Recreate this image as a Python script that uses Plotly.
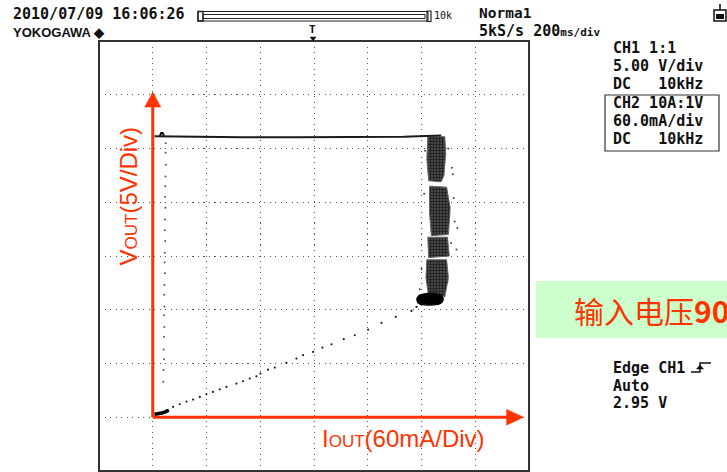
import plotly.graph_objects as go

# ---------------- data (current in mA, voltage in V) ----------------
# top plateau of the V-I trace
TOP_I = [2, 40, 100, 160, 220, 280, 322]
TOP_V = [26.15, 26.1, 26.05, 26.05, 26.05, 26.1, 26.2]

# small notch at the start of the plateau
NOTCH_I = [8, 9.5, 11, 12.5]
NOTCH_V = [26.2, 26.45, 26.45, 26.2]

# sparse fast-transition dots near zero current
DROP_I = [14.5, 14.3, 14.6, 14.2, 14.0, 13.8, 14.1, 13.7, 13.5, 13.9, 13.4, 13.2,
          13.6, 13.0, 12.8, 13.1, 12.6, 12.9, 12.4, 12.2, 12.5, 12.0, 11.8]
DROP_V = [25.5, 24.6, 23.5, 22.4, 21.5, 20.5, 19.5, 18.4, 17.4, 16.4, 15.3, 14.4,
          13.4, 12.3, 11.4, 10.3, 9.5, 8.4, 7.5, 6.3, 5.4, 4.4, 3.3]

# rising ramp (sparse dots)
RAMP_I = [15.3, 22.7, 30.1, 37.6, 45.0, 52.5, 59.9, 67.3, 74.8, 82.2, 93.4, 100.8,
          108.3, 115.7, 120.2, 128.7, 136.2, 149.2, 160.4, 167.8, 179.0, 189.4,
          199.5, 213.2, 225.5, 240.4, 255.3, 271.3, 288.8, 294.4]
RAMP_V = [0.65, 0.96, 1.21, 1.46, 1.64, 1.89, 2.14, 2.36, 2.60, 2.82, 3.13, 3.35,
          3.60, 3.81, 4.06, 4.43, 4.62, 5.05, 5.46, 5.77, 6.08, 6.48, 6.79, 7.26,
          7.63, 8.16, 8.77, 9.33, 9.89, 10.26]

# dense blob at the origin
ORIGIN_I = [2, 6, 10, 14, 18]
ORIGIN_V = [0.28, 0.32, 0.4, 0.5, 0.65]

# noisy constant-current column (outline of each dense block)
BLOCK1_I = [307, 326, 327, 325, 322, 308, 306, 307]
BLOCK1_V = [26.1, 26.1, 24.5, 22.5, 21.9, 22.0, 24.0, 26.1]
BLOCK2_I = [309, 328, 332, 330, 311, 309, 309]
BLOCK2_V = [21.5, 21.4, 19.5, 17.0, 16.9, 19.0, 21.5]
BLOCK3_I = [307, 329, 331, 308, 307]
BLOCK3_V = [16.75, 16.75, 15.0, 14.85, 16.75]
BLOCK4_I = [306, 328, 330, 326, 308, 305, 306]
BLOCK4_V = [14.65, 14.65, 13.0, 11.2, 11.2, 13.0, 14.65]
BLOB_I = [297, 305, 315, 322, 324, 320, 308, 298, 295, 297]
BLOB_V = [11.3, 11.5, 11.5, 11.3, 10.9, 10.55, 10.45, 10.55, 10.9, 11.3]

# scattered stray dots around the column
STRAY_I = [330, 334, 336, 331, 337, 333, 339, 329, 335, 340, 303, 300, 304, 298]
STRAY_V = [25.0, 23.2, 20.4, 19.0, 18.2, 16.2, 15.6, 12.6, 22.6, 17.6, 20.8, 13.8, 24.8, 11.9]

# scope settings (axis scales)
I_DIV = 60       # mA/div
V_DIV = 5        # V/div
I_RANGE = [-60, 420]
V_RANGE = [-5, 35]

# red hand-drawn axes (in data units)
AXIS_I_END = 414.0
AXIS_V_END = 30.25
HEAD_I_LEN = 19.0
HEAD_V_LEN = 1.4
HEAD_I_HALF = 8.9
HEAD_V_HALF = 0.73

RED = "#ff3300"
INK = "#111111"

# ---------------- figure ----------------
W, H = 727, 472
L, T, PW, PH = 99, 41, 430, 430


def PX(px):
    return (px - L) / PW


def PY(py):
    return (T + PH - py) / PH


fig = go.Figure()

# red axes (under the trace)
fig.add_trace(go.Scatter(x=[0, 0], y=[0, AXIS_V_END - HEAD_V_LEN + 0.1], mode="lines",
                         line=dict(color=RED, width=3), hoverinfo="skip"))
fig.add_trace(go.Scatter(x=[0, AXIS_I_END - HEAD_I_LEN + 1], y=[0, 0], mode="lines",
                         line=dict(color=RED, width=3), hoverinfo="skip"))
fig.add_trace(go.Scatter(
    x=[-HEAD_I_HALF, HEAD_I_HALF, 0, -HEAD_I_HALF],
    y=[AXIS_V_END - HEAD_V_LEN, AXIS_V_END - HEAD_V_LEN, AXIS_V_END, AXIS_V_END - HEAD_V_LEN],
    mode="lines", fill="toself", fillcolor=RED, line=dict(color=RED, width=0.5), hoverinfo="skip"))
fig.add_trace(go.Scatter(
    x=[AXIS_I_END - HEAD_I_LEN, AXIS_I_END - HEAD_I_LEN, AXIS_I_END, AXIS_I_END - HEAD_I_LEN],
    y=[-HEAD_V_HALF, HEAD_V_HALF, 0, -HEAD_V_HALF],
    mode="lines", fill="toself", fillcolor=RED, line=dict(color=RED, width=0.5), hoverinfo="skip"))

# trace
pat = dict(shape="+", fgcolor="#000000", bgcolor="#4a4a4a", size=3, solidity=0.6)
for bi, bv in [(BLOCK1_I, BLOCK1_V), (BLOCK2_I, BLOCK2_V), (BLOCK3_I, BLOCK3_V), (BLOCK4_I, BLOCK4_V)]:
    fig.add_trace(go.Scatter(x=bi, y=bv, mode="lines", fill="toself", fillpattern=pat,
                             line=dict(color="#666", width=1), hoverinfo="skip"))
fig.add_trace(go.Scatter(x=BLOB_I, y=BLOB_V, mode="lines", fill="toself", fillcolor="#000",
                         line=dict(color="#000", width=1.5, shape="spline"), hoverinfo="skip"))
fig.add_trace(go.Scatter(x=STRAY_I, y=STRAY_V, mode="markers",
                         marker=dict(color="#444", size=2), hoverinfo="skip"))
fig.add_trace(go.Scatter(x=TOP_I, y=TOP_V, mode="lines", line=dict(color="#1a1a1a", width=2),
                         hoverinfo="skip"))
fig.add_trace(go.Scatter(x=NOTCH_I, y=NOTCH_V, mode="lines", line=dict(color="#000", width=2),
                         hoverinfo="skip"))
fig.add_trace(go.Scatter(x=DROP_I, y=DROP_V, mode="markers",
                         marker=dict(color="#555", size=2), hoverinfo="skip"))
fig.add_trace(go.Scatter(x=RAMP_I, y=RAMP_V, mode="markers",
                         marker=dict(color="#222", size=2.2), hoverinfo="skip"))
fig.add_trace(go.Scatter(x=ORIGIN_I, y=ORIGIN_V, mode="lines",
                         line=dict(color="#000", width=3.5), hoverinfo="skip"))

grid = dict(showgrid=True, gridcolor="#555", gridwidth=1.3, griddash="1.3px,4.2px",
            zeroline=False, showline=False, showticklabels=False, ticks="", fixedrange=True)
fig.update_xaxes(range=I_RANGE, tick0=I_RANGE[0], dtick=I_DIV, **grid)
fig.update_yaxes(range=V_RANGE, tick0=V_RANGE[0], dtick=V_DIV, **grid)

shapes = []
# screen frame
shapes.append(dict(type="rect", xref="paper", yref="paper", x0=0, x1=1, y0=0, y1=1,
                   line=dict(color="#333", width=2), layer="above"))
# green banner
shapes.append(dict(type="rect", xref="paper", yref="paper", x0=PX(536), x1=PX(730),
                   y0=PY(338), y1=PY(281), fillcolor="#ccffcc", line=dict(width=0), layer="below"))
# CH2 box
shapes.append(dict(type="rect", xref="paper", yref="paper", x0=PX(605), x1=PX(719),
                   y0=PY(151), y1=PY(95), line=dict(color="#333", width=1.2)))
# record-length bar
shapes.append(dict(type="rect", xref="paper", yref="paper", x0=PX(198), x1=PX(428),
                   y0=PY(21), y1=PY(11.5), line=dict(color="#222", width=1)))
shapes.append(dict(type="rect", xref="paper", yref="paper", x0=PX(203), x1=PX(425),
                   y0=PY(18.5), y1=PY(14.5), line=dict(color="#222", width=1)))
shapes.append(dict(type="rect", xref="paper", yref="paper", x0=PX(198), x1=PX(203),
                   y0=PY(21), y1=PY(11.5), line=dict(color="#222", width=1.5)))
shapes.append(dict(type="rect", xref="paper", yref="paper", x0=PX(427), x1=PX(431),
                   y0=PY(21.5), y1=PY(11), line=dict(color="#222", width=1.2)))
# trigger position marker
shapes.append(dict(type="path", xref="paper", yref="paper",
                   path=f"M{PX(310)},{PY(37)} L{PX(316)},{PY(37)} L{PX(313)},{PY(41)} Z",
                   fillcolor="#111", line=dict(color="#111", width=0.5)))
# top-right icon
shapes.append(dict(type="line", xref="paper", yref="paper", x0=PX(720), x1=PX(720),
                   y0=PY(10), y1=PY(4), line=dict(color="#111", width=1.5)))
shapes.append(dict(type="rect", xref="paper", yref="paper", x0=PX(714), x1=PX(726),
                   y0=PY(21), y1=PY(10), line=dict(color="#111", width=1.5)))
shapes.append(dict(type="rect", xref="paper", yref="paper", x0=PX(716), x1=PX(724),
                   y0=PY(19), y1=PY(14), fillcolor="#111", line=dict(width=0)))
# rising-edge glyph
shapes.append(dict(type="path", xref="paper", yref="paper",
                   path=f"M{PX(691)},{PY(372)} L{PX(700)},{PY(372)} L{PX(700)},{PY(363)} L{PX(711)},{PY(363)}",
                   line=dict(color="#111", width=1.5)))
shapes.append(dict(type="path", xref="paper", yref="paper",
                   path=f"M{PX(696.5)},{PY(369)} L{PX(703.5)},{PY(369)} L{PX(700)},{PY(365)} Z",
                   fillcolor="#111", line=dict(color="#111", width=0.5)))

ann = []


def txt(px, py, s, size=15, family="DejaVu Sans Mono", color=INK, xanchor="left", bold=True, **kw):
    ann.append(dict(xref="paper", yref="paper", x=PX(px), y=PY(py), text=(f"<b>{s}</b>" if bold else s),
                    showarrow=False, xanchor=xanchor, yanchor="middle",
                    font=dict(family=family, size=size, color=color), **kw))


NB = "\u00a0"
txt(11, 14, "2010/07/09 16:06:26")
txt(11, 32, "YOKOGAWA ◆", size=13, family="Liberation Sans")
txt(432, 15.5, "10k", size=10, bold=False)
txt(307, 30, "T", size=11)
txt(477, 13, "Norma1", size=14.5)
txt(477, 31, "5kS/s 200<span style='font-size:11px'>ms/div</span>", size=15)
txt(611, 48, "CH1 1:1")
txt(611, 66, "5.00 V/div")
txt(611, 84, "DC" + NB * 3 + "10kHz")
txt(611, 103, "CH2 10A:1V")
txt(611, 121, "60.0mA/div")
txt(611, 139, "DC" + NB * 3 + "10kHz")
txt(611, 368, "Edge CH1")
txt(611, 386, "Auto")
txt(611, 403, "2.95 V")
txt(572, 310, "输入电压<b>90</b>", size=30, family="Noto Sans CJK SC", color=RED, bold=False)

# red axis labels
ann.append(dict(xref="paper", yref="paper", x=PX(128), y=PY(196.5),
                text="V<span style='font-size:17px'>OUT</span>(5V/Div)", showarrow=False,
                textangle=-90, xanchor="center", yanchor="middle",
                font=dict(family="Liberation Sans", size=24, color=RED)))
ann.append(dict(xref="paper", yref="paper", x=PX(403), y=PY(438.5),
                text="I<span style='font-size:17px'>OUT</span>(60mA/Div)", showarrow=False,
                xanchor="center", yanchor="middle",
                font=dict(family="Liberation Sans", size=24, color=RED)))

fig.update_layout(
    width=W, height=H,
    margin=dict(l=L, r=W - L - PW, t=T, b=H - T - PH, pad=0),
    paper_bgcolor="white", plot_bgcolor="white",
    showlegend=False, hovermode=False,
    shapes=shapes, annotations=ann,
)

fig.write_html("out.html", config={"displayModeBar": False})
